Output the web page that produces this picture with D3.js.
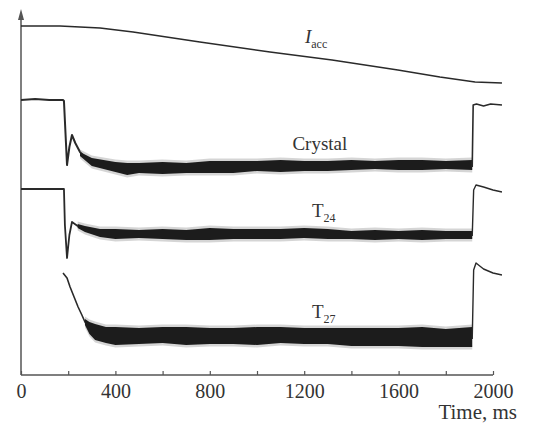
<!DOCTYPE html>
<html>
<head>
<meta charset="utf-8">
<script src="https://cdn.jsdelivr.net/npm/d3@7"></script>
<style>
  body { margin: 0; background: #fff; }
  text { font-family: "Liberation Serif", "DejaVu Serif", serif; fill: #333; }
</style>
</head>
<body>
<div id="chart"></div>
<script>
// ---- data (signal in arbitrary units) ----
var xTicks = [0, 200, 400, 600, 800, 1000, 1200, 1400, 1600, 1800, 2000];
var xLabels = [0, 400, 800, 1200, 1600, 2000];

// accelerator current
var iaccT = [0, 165, 335, 475, 758, 1055, 1318, 1597, 1775, 1924, 2038];
var iaccV = [349, 349, 347, 343, 333, 323, 315, 305, 298, 293, 292];

// Crystal: transient, noisy plateau, recovery
var crystalT = [0, 60, 120, 178, 182, 195, 205, 216, 230, 250, 270];
var crystalV = [275, 276, 275, 275, 274, 210, 228, 240, 232, 223, 218];
var crystalBandT = [250, 300, 400, 450, 500, 600, 700, 800, 900, 1000, 1100, 1200, 1300, 1400, 1500, 1600, 1700, 1800, 1912];
var crystalBandMid = [221, 213, 208, 206, 207, 207, 207, 208, 208, 209, 209, 209, 209, 210, 210, 210, 210, 210, 210];
var crystalBandHalf = [2, 4, 5, 6, 5, 6, 5, 6, 6, 5, 6, 5, 5, 5, 4, 5, 5, 4, 5];
var crystalTailT = [1912, 1916, 1930, 1960, 1990, 2038];
var crystalTailV = [208, 270, 271, 269, 271, 270];

// T24
var t24T = [0, 182, 186, 195, 205, 216, 240, 271];
var t24V = [186, 186, 150, 117, 140, 153, 149, 146];
var t24BandT = [240, 271, 335, 400, 500, 600, 700, 800, 900, 1000, 1100, 1200, 1300, 1400, 1500, 1600, 1700, 1800, 1912];
var t24BandMid = [149, 146, 142, 141, 141, 141, 140, 141, 141, 141, 141, 142, 141, 140, 140, 140, 140, 140, 140];
var t24BandHalf = [2, 3, 4, 5, 4, 5, 5, 6, 5, 5, 5, 5, 5, 4, 5, 4, 5, 4, 4];
var t24TailT = [1912, 1918, 1928, 1960, 2000, 2038];
var t24TailV = [139, 185, 190, 188, 185, 183];

// T27
var t27T = [178, 195, 208, 225, 242, 258, 271, 290];
var t27V = [102, 97, 88, 78, 68, 60, 53, 47];
var t27BandT = [271, 290, 314, 360, 400, 500, 600, 700, 800, 900, 1000, 1100, 1200, 1300, 1400, 1500, 1600, 1700, 1800, 1912];
var t27BandMid = [53, 47, 43, 40, 39, 39, 40, 39, 39, 39, 39, 40, 39, 39, 38, 38, 38, 38, 37, 38];
var t27BandHalf = [3, 6, 8, 8, 9, 8, 8, 9, 8, 8, 9, 8, 8, 8, 9, 9, 9, 10, 9, 10];
var t27TailT = [1912, 1918, 1928, 1960, 2000, 2038];
var t27TailV = [36, 105, 112, 106, 102, 100];

// ---- chart ----
var width = 535, height = 424;
var svg = d3.select("#chart").append("svg")
    .attr("width", width)
    .attr("height", height);

var x = d3.scaleLinear().domain([0, 2000]).range([21, 493]);
var y = d3.scaleLinear().domain([0, 365]).range([375, 10]);

function zip(a, b) { return a.map(function (d, i) { return [d, b[i]]; }); }

var line = d3.line()
    .x(function (d) { return x(d[0]); })
    .y(function (d) { return y(d[1]); });

function band(tt, mid, half, extra) {
    return d3.area()
        .x(function (d, i) { return x(tt[i]); })
        .y0(function (d, i) { return y(mid[i] - half[i] - extra); })
        .y1(function (d, i) { return y(mid[i] + half[i] + extra); })(tt);
}

function drawLine(tt, vv, w) {
    svg.append("path")
        .attr("d", line(zip(tt, vv)))
        .attr("fill", "none")
        .attr("stroke", "#2a2a2a")
        .attr("stroke-width", w)
        .attr("stroke-linejoin", "round");
}

function drawBand(tt, mid, half) {
    // fuzzy outer spikes, then dense core
    svg.append("path").attr("d", band(tt, mid, half, 2.5))
        .attr("fill", "#888").attr("opacity", 0.35);
    svg.append("path").attr("d", band(tt, mid, half, 0))
        .attr("fill", "#1c1c1c");
}

// x axis
var xAxis = d3.axisBottom(x)
    .tickValues(xTicks)
    .tickSize(-4)
    .tickSizeOuter(0)
    .tickFormat(function (d) { return xLabels.indexOf(d) >= 0 ? d : ""; });

var gx = svg.append("g")
    .attr("transform", "translate(0," + y(0) + ")")
    .call(xAxis);
gx.select(".domain").attr("stroke", "#555").attr("stroke-width", 1.5)
    .attr("d", "M" + x(0) + ",0H" + x(2000));
gx.selectAll(".tick line").attr("stroke", "#555").attr("stroke-width", 1.2);
gx.selectAll(".tick text")
    .attr("y", 23)
    .attr("dy", 0)
    .style("font-size", "20px")
    .style("font-family", "Liberation Serif, serif")
    .attr("fill", "#444");

svg.append("text")
    .attr("x", 517)
    .attr("y", 419)
    .attr("text-anchor", "end")
    .style("font-size", "21px")
    .attr("fill", "#444")
    .text("Time, ms");

// y axis with arrow
svg.append("line")
    .attr("x1", x(0)).attr("x2", x(0))
    .attr("y1", y(0)).attr("y2", 16)
    .attr("stroke", "#555").attr("stroke-width", 1.5);
svg.append("path")
    .attr("d", "M" + (x(0) - 3) + ",20L" + x(0) + ",9L" + (x(0) + 3) + ",20Z")
    .attr("fill", "#555");

// traces
drawLine(iaccT, iaccV, 1.4);

drawLine(crystalT, crystalV, 2);
drawBand(crystalBandT, crystalBandMid, crystalBandHalf);
drawLine(crystalTailT, crystalTailV, 1.6);

drawLine(t24T, t24V, 1.8);
drawBand(t24BandT, t24BandMid, t24BandHalf);
drawLine(t24TailT, t24TailV, 1.4);

drawLine(t27T, t27V, 1.6);
drawBand(t27BandT, t27BandMid, t27BandHalf);
drawLine(t27TailT, t27TailV, 1.4);

// labels
function label(t, v, main, sub, italic) {
    var txt = svg.append("text")
        .attr("x", x(t)).attr("y", y(v))
        .style("font-size", "19px");
    txt.append("tspan").text(main)
        .style("font-style", italic ? "italic" : "normal");
    if (sub) {
        txt.append("tspan").text(sub)
            .attr("dy", 5)
            .style("font-size", "12px");
    }
}
label(1203, 332, "I", "acc", true);
label(1150, 225, "Crystal", null, false);
label(1233, 158, "T", "24", false);
label(1233, 57, "T", "27", false);
</script>
</body>
</html>
